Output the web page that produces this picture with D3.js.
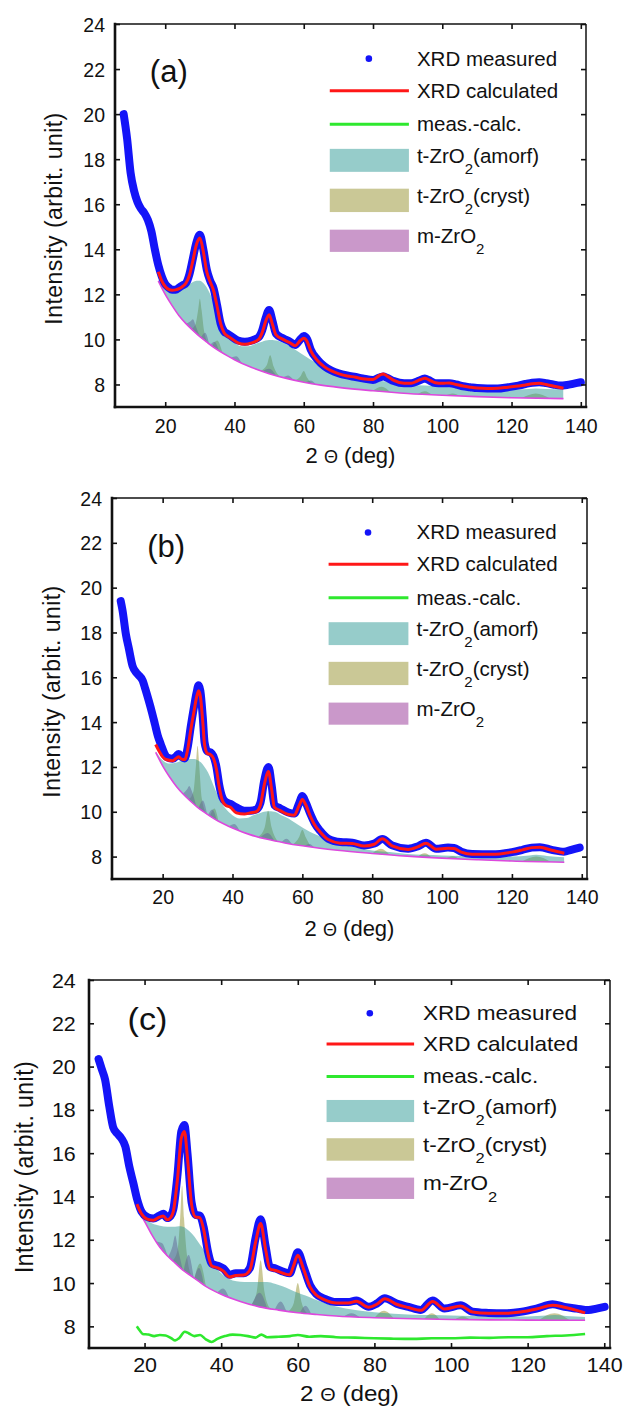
<!DOCTYPE html>
<html><head><meta charset="utf-8">
<script src="https://cdn.jsdelivr.net/npm/d3@7"></script>
<style>
html,body{margin:0;padding:0;background:#fff;}
svg{display:block;font-family:"Liberation Sans",Arial,Helvetica,sans-serif;}
</style></head><body>
<svg id="fig" width="625" height="1407"></svg>
<script>
// ---------------- data ----------------
const xTicks = [20, 40, 60, 80, 100, 120, 140];
const yTicks = [8, 10, 12, 14, 16, 18, 20, 22, 24];
const panelLabels = ["(a)", "(b)", "(c)"];
const legendLines = ["XRD measured", "XRD calculated", "meas.-calc."];
const legendPhases = [["t-ZrO", "2", "(amorf)"], ["t-ZrO", "2", "(cryst)"], ["m-ZrO", "2", ""]];
const xTitle = ["2 ", "\u0398", " (deg)"];
const yTitle = "Intensity (arbit. unit)";

// shared 2θ grids for the fitted background and the amorphous phase
const bgTheta = [18, 20, 22, 24, 26, 28, 30, 32, 34, 36, 38, 40, 45, 50, 55, 60, 65, 70, 80, 90, 100, 110, 120, 135];
const amorfTheta = [18, 20, 22, 24, 26, 28, 29, 30, 31, 32, 33, 34, 35, 36, 37, 38, 40, 42, 44, 46, 48, 50, 52, 54, 56, 58, 60, 62, 64, 66, 68, 70, 75, 80, 85, 90, 95, 100, 105, 110, 115, 120, 125, 127, 130, 135];

// ---- sample (a) ----
const measuredA = [[8,20.0],[9,18.9],[10,17.4],[11,16.6],[12,16.1],[13,15.8],[14,15.6],[15,15.3],[16,14.8],[17,14.0],[18,13.3],[19,12.8],[20,12.45],[21,12.3],[22,12.2],[23,12.2],[24,12.3],[25,12.4],[26,12.5],[27,12.9],[28,13.6],[29,14.3],[30,14.65],[31,14.0],[32,13.1],[33,12.6],[34,12.25],[35,11.5],[36,10.7],[37,10.35],[38,10.25],[39,10.15],[41,9.95],[43,9.9],[45,9.95],[47,10.1],[48,10.4],[49,10.95],[50,11.3],[51,10.8],[52,10.25],[54,10.05],[56,9.9],[57.5,9.75],[59,10.0],[60,10.15],[61,10.0],[62,9.55],[64,9.1],[66,8.8],[68,8.62],[70,8.5],[72.5,8.4],[75,8.33],[77,8.27],[80,8.2],[82,8.32],[83,8.35],[84,8.3],[86,8.15],[89,8.05],[91,8.05],[93,8.15],[95,8.27],[96,8.2],[98,8.06],[100,8.05],[102,8.05],[104,8.0],[106,7.92],[108,7.88],[110,7.84],[113,7.82],[116,7.82],[119,7.88],[122,7.95],[124,8.02],[126,8.08],[128,8.1],[130,8.06],[132,8.0],[134,7.95],[136,7.98],[138,8.04],[140,8.1]];
const calculatedA = [[18,13.0],[19,12.6],[20,12.35],[21,12.22],[22,12.18],[23,12.2],[24,12.25],[25,12.35],[26,12.5],[27,12.85],[28,13.5],[29,14.2],[30,14.5],[31,13.9],[32,13.0],[33,12.55],[34,12.15],[35,11.45],[36,10.7],[37,10.3],[38,10.15],[39,10.05],[41,9.85],[43,9.78],[45,9.85],[47,10.0],[48,10.3],[49,10.8],[50,11.1],[51,10.65],[52,10.2],[54,10.0],[56,9.85],[57.5,9.72],[59,9.95],[60,10.05],[61,9.9],[62,9.5],[64,9.05],[66,8.78],[68,8.6],[70,8.48],[72.5,8.38],[75,8.32],[77,8.25],[80,8.22],[82,8.42],[83,8.47],[84,8.38],[86,8.18],[89,8.05],[91,8.05],[93,8.17],[95,8.28],[96,8.22],[98,8.08],[100,8.05],[102,8.07],[104,8.0],[106,7.93],[108,7.88],[110,7.84],[113,7.82],[116,7.83],[119,7.88],[122,7.93],[124,7.98],[126,8.03],[128,8.05],[130,8.0],[132,7.93],[135,7.83]];
const backgroundA = [12.6, 12.0, 11.5, 11.05, 10.7, 10.4, 10.12, 9.88, 9.65, 9.45, 9.27, 9.1, 8.75, 8.48, 8.27, 8.1, 7.97, 7.87, 7.72, 7.6, 7.52, 7.46, 7.41, 7.37];
const amorfA = [12.65, 12.25, 12.15, 12.2, 12.35, 12.55, 12.6, 12.6, 12.5, 12.3, 12.0, 11.65, 11.25, 10.85, 10.5, 10.2, 9.85, 9.7, 9.7, 9.8, 9.9, 9.97, 9.95, 9.85, 9.7, 9.5, 9.3, 9.1, 8.95, 8.8, 8.68, 8.58, 8.38, 8.22, 8.1, 8.0, 7.95, 7.9, 7.85, 7.8, 7.78, 7.77, 7.8, 7.82, 7.8, 7.78];
const crystA = [
  [[27.5,10.45],[28.8,10.7],[29.5,11.3],[30,11.8],[30.5,11.3],[31.2,10.4],[32.5,9.8]],
  [[33.5,9.7],[35,9.95],[36.5,9.4]],
  [[47.5,8.6],[49.3,8.85],[50.3,9.3],[51.3,8.8],[53,8.35]],
  [[57.5,8.18],[59,8.35],[60,8.6],[61,8.3],[62.5,8.03]],
  [[80,7.72],[82.5,7.9],[85,7.66]],
  [[93,7.58],[95,7.7],[97,7.54]],
  [[101,7.51],[103,7.6],[105,7.49]],
  [[123,7.4],[127,7.6],[131,7.39]]
];
const monoA = [
  [[26,10.7],[27.2,10.8],[28,10.9],[28.8,10.6],[30,10.12]],
  [[30.3,10.08],[31.5,10.3],[32.7,9.8]],
  [[33,9.76],[34.2,9.9],[35.5,9.5]],
  [[39,9.18],[40.5,9.25],[42,8.96]],
  [[48,8.58],[50,8.7],[52,8.4]],
  [[54,8.31],[55.5,8.4],[57,8.2]],
  [[60.5,8.09],[62,8.18],[63.5,8.0]]
];

// ---- sample (b) ----
const measuredB = [[8,19.4],[8.5,19.0],[9.5,17.9],[10.3,17.3],[11.4,16.5],[12.5,16.2],[13.1,16.1],[14.3,15.85],[15,15.5],[16,14.97],[17,14.4],[17.8,13.9],[18.6,13.4],[19.5,13.0],[20.5,12.6],[21.2,12.43],[22.9,12.36],[24,12.5],[24.6,12.58],[25.4,12.45],[26.3,12.38],[27.2,12.9],[28,13.75],[29,14.7],[29.7,15.3],[30.3,15.65],[30.8,15.4],[31.5,14.2],[32,13.1],[32.8,12.7],[33.7,12.65],[34.5,12.5],[35.4,12.0],[36.2,11.2],[37.1,10.64],[38,10.45],[39.4,10.35],[41.1,10.2],[43.4,10.05],[45,10.05],[46.8,10.1],[48,10.4],[49.1,11.4],[50.3,12.0],[51.2,11.2],[52,10.3],[53.7,10.15],[56,9.97],[57.7,9.92],[59,10.35],[60,10.7],[61,10.4],[62.3,9.9],[63.5,9.5],[65.1,9.15],[67.4,8.8],[70.9,8.65],[74.3,8.62],[77.7,8.5],[80.6,8.58],[82.9,8.78],[85.7,8.5],[90.3,8.35],[93,8.45],[95.4,8.62],[98.3,8.35],[101.7,8.4],[103.4,8.38],[105.5,8.22],[108.6,8.12],[114.3,8.1],[120,8.2],[123,8.3],[125.7,8.4],[128,8.42],[131.4,8.3],[134.9,8.22],[137,8.3],[139.4,8.4]];
const calculatedB = [[18,13.0],[19,12.7],[20,12.45],[21,12.33],[22.9,12.28],[24,12.4],[24.6,12.45],[25.4,12.35],[26.3,12.33],[27.2,12.8],[28,13.6],[29,14.5],[29.7,15.1],[30.3,15.4],[30.8,15.15],[31.5,14.0],[32,13.0],[32.8,12.6],[33.7,12.55],[34.5,12.4],[35.4,11.9],[36.2,11.1],[37.1,10.5],[38,10.3],[39.4,10.2],[41.1,9.95],[43.4,9.9],[45,9.95],[46.8,10.0],[48,10.3],[49.1,11.2],[50.3,11.8],[51.2,11.0],[52,10.2],[53.7,10.05],[56,9.88],[57.7,9.85],[59,10.25],[60,10.55],[61,10.3],[62.3,9.8],[63.5,9.42],[65.1,9.1],[67.4,8.76],[70.9,8.6],[74.3,8.58],[77.7,8.47],[80.6,8.55],[82.9,8.8],[85.7,8.48],[90.3,8.32],[93,8.43],[95.4,8.6],[98.3,8.33],[101.7,8.37],[103.4,8.36],[105.5,8.2],[108.6,8.1],[114.3,8.1],[120,8.2],[123,8.3],[125.7,8.4],[128,8.42],[131.4,8.28],[135,8.15]];
const backgroundB = [12.65, 12.05, 11.55, 11.12, 10.77, 10.47, 10.2, 9.97, 9.76, 9.58, 9.42, 9.28, 8.98, 8.77, 8.61, 8.48, 8.37, 8.28, 8.14, 8.02, 7.93, 7.86, 7.8, 7.75];
const amorfB = [12.7, 12.3, 12.15, 12.2, 12.3, 12.35, 12.35, 12.3, 12.2, 12.0, 11.75, 11.4, 11.0, 10.65, 10.35, 10.15, 9.85, 9.7, 9.72, 9.85, 9.95, 10.02, 10.0, 9.85, 9.7, 9.5, 9.3, 9.12, 8.97, 8.83, 8.7, 8.6, 8.42, 8.27, 8.2, 8.12, 8.08, 8.05, 8.03, 8.0, 7.99, 8.0, 8.05, 8.08, 8.03, 7.97];
const crystB = [
  [[27.5,10.55],[28.8,10.9],[29.5,12.0],[30,12.95],[30.5,12.0],[31.2,10.6],[32.5,9.92]],
  [[33.5,9.8],[34.8,10.15],[36,9.58]],
  [[47.5,8.9],[49.2,9.3],[50.2,10.05],[51.2,9.3],[53,8.67]],
  [[57.5,8.56],[59,8.85],[60,9.2],[61,8.85],[62.5,8.42]],
  [[80,8.14],[82.5,8.35],[85,8.08]],
  [[93,7.99],[95,8.15],[97,7.96]],
  [[101,7.92],[103,8.02],[105,7.9]],
  [[123,7.79],[127,8.0],[131,7.77]]
];
const monoB = [
  [[25.8,10.8],[27,11.0],[27.6,11.15],[28.4,10.9],[29.6,10.25]],
  [[30.3,10.16],[31.5,10.5],[32.7,9.9]],
  [[33,9.86],[34.2,10.1],[35.5,9.62]],
  [[39,9.35],[40.5,9.45],[42,9.16]],
  [[48,8.85],[50,9.05],[52,8.7]],
  [[54,8.64],[55.5,8.8],[57,8.56]],
  [[60.5,8.46],[62,8.56],[63.5,8.39]]
];

// ---- sample (c) ----
const measuredC = [[8,20.35],[8.8,19.9],[9.7,19.4],[10.8,18.15],[11.8,17.2],[12.9,16.9],[13.9,16.7],[15,16.3],[16,15.4],[17.1,14.6],[18.1,13.85],[19.2,13.3],[20.7,13.05],[22.3,12.98],[23.9,13.12],[24.9,13.2],[25.9,13.0],[26.8,13.1],[27.5,13.4],[28.6,15.0],[29.6,17.0],[30.4,17.3],[31.2,16.0],[32.3,13.7],[33.3,13.15],[34.4,13.12],[35.4,12.6],[36.5,11.5],[37.5,10.9],[39.1,10.8],[40.6,10.67],[42.2,10.38],[43.8,10.45],[45.9,10.45],[47.5,10.7],[49,12.1],[50.3,12.95],[51.6,11.7],[52.7,10.75],[54.2,10.67],[56.3,10.52],[57.9,10.45],[58.9,10.9],[60,11.42],[61.5,10.75],[63.2,9.9],[64.8,9.5],[66.9,9.28],[70.1,9.12],[73.2,9.12],[75.3,9.2],[78.5,8.9],[80.6,9.05],[82.7,9.3],[85.8,9.05],[88.9,8.9],[92.1,8.76],[95.2,9.2],[98.3,8.82],[102.5,8.97],[105.6,8.68],[109.8,8.62],[114,8.6],[118.1,8.67],[122.3,8.82],[126.5,9.02],[129.6,8.9],[132.8,8.82],[135.9,8.75],[138,8.82],[140.1,8.9]];
const calculatedC = [[18,13.65],[19.2,13.2],[20.7,12.95],[22.3,12.9],[23.9,13.05],[24.9,13.1],[25.9,12.92],[26.8,13.02],[27.5,13.3],[28.6,14.8],[29.6,16.7],[30.4,17.0],[31.2,15.8],[32.3,13.6],[33.3,13.05],[34.4,13.02],[35.4,12.5],[36.5,11.4],[37.5,10.8],[39.1,10.7],[40.6,10.55],[42.2,10.28],[43.8,10.35],[45.9,10.37],[47.5,10.6],[49,11.9],[50.3,12.75],[51.6,11.55],[52.7,10.65],[54.2,10.58],[56.3,10.44],[57.9,10.38],[58.9,10.8],[60,11.28],[61.5,10.65],[63.2,9.82],[64.8,9.45],[66.9,9.24],[70.1,9.08],[73.2,9.08],[75.3,9.16],[78.5,8.88],[80.6,9.02],[82.7,9.27],[85.8,9.02],[88.9,8.87],[92.1,8.74],[95.2,9.15],[98.3,8.8],[102.5,8.94],[105.6,8.66],[109.8,8.6],[114,8.6],[118.1,8.66],[122.3,8.8],[126.5,8.98],[129.6,8.88],[132.8,8.74],[135,8.62]];
const residualC = [[18,8.0],[18.8,7.8],[19.5,7.65],[21,7.62],[22.5,7.55],[24,7.6],[25.5,7.58],[27,7.45],[28,7.35],[29,7.45],[30.5,7.75],[31.5,7.68],[33,7.55],[34.5,7.6],[36,7.4],[37.5,7.28],[39,7.42],[41,7.55],[43,7.62],[45,7.6],[47,7.55],[49,7.48],[50.5,7.62],[52,7.5],[55,7.52],[58,7.55],[60,7.6],[63,7.52],[66,7.55],[70,7.5],[75,7.48],[80,7.45],[85,7.43],[90,7.42],[95,7.45],[100,7.45],[105,7.48],[110,7.47],[115,7.5],[120,7.5],[125,7.55],[130,7.58],[135,7.65]];
const backgroundC = [13.45, 12.85, 12.2, 11.65, 11.25, 10.92, 10.6, 10.35, 10.1, 9.85, 9.65, 9.48, 9.15, 8.9, 8.75, 8.63, 8.55, 8.48, 8.4, 8.35, 8.32, 8.3, 8.29, 8.28];
const amorfC = [13.5, 13.0, 12.75, 12.65, 12.6, 12.6, 12.62, 12.6, 12.5, 12.35, 12.15, 11.9, 11.65, 11.35, 11.1, 10.85, 10.45, 10.2, 10.08, 10.05, 10.05, 10.05, 10.05, 9.97, 9.85, 9.7, 9.55, 9.42, 9.28, 9.15, 9.02, 8.92, 8.75, 8.65, 8.58, 8.54, 8.52, 8.5, 8.48, 8.47, 8.46, 8.46, 8.5, 8.52, 8.48, 8.43];
const crystC = [
  [[27.3,11.03],[28.6,11.5],[29.3,13.0],[29.8,14.5],[30.3,13.0],[31.0,11.4],[32.3,10.31]],
  [[33,10.22],[34.5,10.9],[36,9.85]],
  [[47.8,9.0],[49.3,9.6],[50.3,11.05],[51.3,9.6],[52.8,8.82]],
  [[57.5,8.69],[59,9.1],[60,10.0],[61,9.1],[62.5,8.6]],
  [[80,8.4],[82.5,8.72],[85,8.38]],
  [[93,8.34],[95,8.6],[97,8.33]],
  [[101,8.32],[103,8.45],[105,8.31]],
  [[123,8.29],[127,8.6],[131,8.28]]
];
const monoC = [
  [[23,11.92],[24.5,11.85],[26,11.25]],
  [[26.2,11.22],[27.3,11.7],[28,12.2],[28.7,11.6],[30,10.6]],
  [[30.2,10.58],[31.5,11.3],[32.8,10.25]],
  [[33,10.22],[34.2,10.7],[35.5,9.92]],
  [[39,9.56],[40.5,9.75],[42,9.35]],
  [[48,9.0],[50,9.55],[52,8.84]],
  [[54,8.78],[55.5,9.15],[57,8.72]],
  [[60.5,8.61],[62,8.95],[63.5,8.58]],
  [[72,8.46],[74,8.6],[76,8.44]]
];

// ---------------- styling ----------------
const COL = {
  measured: "#1414f8",
  calculated: "#ff1717",
  residual: "#2ee82e",
  amorf: "#2e9995",
  cryst: "#95912d",
  mono: "#953195",
  monoLine: "#dd48dd",
  axis: "#111"
};
const AREA_OPACITY = 0.5;

// frame placement of the three stacked panels
const frames = [
  { left: 115, right: 586, top: 24,  bottom: 407,  kx: 1.0,  yTitleX: 54, xTitleY: 463,   labGap: 10, xLabDy: 26,   tagFrac: 0.151 },
  { left: 112, right: 587, top: 498, bottom: 879,  kx: 1.0,  yTitleX: 52, xTitleY: 936,   labGap: 10, xLabDy: 25,   tagFrac: 0.155 },
  { left: 89,  right: 610, top: 980, bottom: 1348, kx: 1.1,  yTitleX: 24, xTitleY: 1400.5, labGap: 12, xLabDy: 24.5, tagFrac: 0.135 }
];

const panelsData = [
  { measured: measuredA, calculated: calculatedA, residual: null, bg: backgroundA, amorf: amorfA, cryst: crystA, mono: monoA },
  { measured: measuredB, calculated: calculatedB, residual: null, bg: backgroundB, amorf: amorfB, cryst: crystB, mono: monoB },
  { measured: measuredC, calculated: calculatedC, residual: residualC, bg: backgroundC, amorf: amorfC, cryst: crystC, mono: monoC }
];

const svg = d3.select("#fig");
const FONT = '"Liberation Sans", Arial, Helvetica, sans-serif';

function drawPanel(F, D, idx) {
  const g = svg.append("g");
  const w = F.right - F.left, h = F.bottom - F.top;
  const x = d3.scaleLinear().domain([5.5, 141.5]).range([F.left, F.right]);
  const y = d3.scaleLinear().domain([7, 24]).range([F.bottom, F.top]);
  const curve = d3.curveMonotoneX;

  const bgPts = bgTheta.map((t, i) => [t, D.bg[i]]);
  const amorfPts = amorfTheta.map((t, i) => [t, D.amorf[i]]);

  // phase areas sit on the background: clip everything to the region above it
  const clipId = "above-bg-" + idx;
  g.append("clipPath").attr("id", clipId).append("path")
    .attr("d", d3.area().x(d => x(d[0])).y0(F.top).y1(d => y(d[1])).curve(curve)(bgPts));

  const fillArea = d3.area().x(d => x(d[0])).y0(F.bottom).y1(d => y(d[1])).curve(curve);
  const comp = g.append("g").attr("clip-path", `url(#${clipId})`);
  // narrow crystalline and monoclinic peaks underneath, broad amorphous hump on top
  comp.selectAll("path.cryst").data(D.cryst).join("path").attr("class", "cryst")
    .attr("d", fillArea).attr("fill", COL.cryst).attr("fill-opacity", AREA_OPACITY);
  comp.selectAll("path.mono").data(D.mono).join("path").attr("class", "mono")
    .attr("d", fillArea).attr("fill", COL.mono).attr("fill-opacity", AREA_OPACITY);
  comp.append("path").attr("d", fillArea(amorfPts))
    .attr("fill", COL.amorf).attr("fill-opacity", AREA_OPACITY);

  const line = d3.line().x(d => x(d[0])).y(d => y(d[1])).curve(curve);

  // background / m-ZrO2 base outline
  g.append("path").attr("d", line(bgPts)).attr("fill", "none")
    .attr("stroke", COL.monoLine).attr("stroke-width", 1.6);

  // measured pattern (dense points form a thick band)
  g.append("path").attr("d", line(D.measured)).attr("fill", "none")
    .attr("stroke", COL.measured).attr("stroke-width", 8)
    .attr("stroke-linejoin", "round").attr("stroke-linecap", "round");

  // calculated pattern
  g.append("path").attr("d", line(D.calculated)).attr("fill", "none")
    .attr("stroke", COL.calculated).attr("stroke-width", 3)
    .attr("stroke-linejoin", "round");

  if (D.residual) {
    g.append("path").attr("d", line(D.residual)).attr("fill", "none")
      .attr("stroke", COL.residual).attr("stroke-width", 2.6)
      .attr("stroke-linejoin", "round");
  }

  // axes: inward ticks on all four sides, labels on left and bottom
  const tickFont = 19.5;
  const ax = d3.axisBottom(x).tickValues(xTicks).tickSizeInner(-5).tickSizeOuter(0).tickPadding(F.xLabDy - 0.71 * tickFont);
  const gx = g.append("g").attr("transform", `translate(0,${F.bottom})`).call(ax);
  const axT = d3.axisTop(x).tickValues(xTicks).tickSizeInner(-5).tickSizeOuter(0).tickFormat("");
  const gxt = g.append("g").attr("transform", `translate(0,${F.top})`).call(axT);
  const ay = d3.axisLeft(y).tickValues(yTicks).tickSizeInner(-5).tickSizeOuter(0).tickPadding(F.labGap);
  const gy = g.append("g").attr("transform", `translate(${F.left},0)`).call(ay);
  const ayR = d3.axisRight(y).tickValues(yTicks).tickSizeInner(-5).tickSizeOuter(0).tickFormat("");
  const gyr = g.append("g").attr("transform", `translate(${F.right},0)`).call(ayR);

  [gx, gxt, gy, gyr].forEach(a => {
    a.attr("font-family", FONT).attr("font-size", tickFont);
    a.select(".domain").remove();
    a.selectAll(".tick line").attr("stroke", COL.axis).attr("stroke-width", 1.6);
    a.selectAll(".tick text").attr("fill", "#111");
  });
  gy.selectAll(".tick text").attr("dy", "0.36em")
    .attr("transform", `scale(${F.kx},1)`);
  gx.selectAll(".tick text").attr("transform", `scale(${F.kx},1)`);

  // frame
  g.append("line").attr("x1", F.left).attr("y1", F.top).attr("x2", F.left).attr("y2", F.bottom)
    .attr("stroke", COL.axis).attr("stroke-width", 2.6).attr("stroke-linecap", "square");
  g.append("line").attr("x1", F.left).attr("y1", F.bottom).attr("x2", F.right).attr("y2", F.bottom)
    .attr("stroke", COL.axis).attr("stroke-width", 2.6).attr("stroke-linecap", "square");
  g.append("line").attr("x1", F.left).attr("y1", F.top).attr("x2", F.right).attr("y2", F.top)
    .attr("stroke", COL.axis).attr("stroke-width", 1.5);
  g.append("line").attr("x1", F.right).attr("y1", F.top).attr("x2", F.right).attr("y2", F.bottom)
    .attr("stroke", COL.axis).attr("stroke-width", 1.5);

  // axis titles
  g.append("text")
    .attr("transform", `translate(${F.yTitleX},${(F.top + F.bottom) / 2 + 3}) rotate(-90) scale(1,${F.kx})`)
    .attr("text-anchor", "middle").attr("dominant-baseline", "central")
    .attr("font-family", FONT).attr("font-size", 23).attr("letter-spacing", 0.45)
    .attr("fill", "#111").text(yTitle);
  const xt = g.append("text")
    .attr("transform", `translate(${(F.left + F.right) / 2},${F.xTitleY}) scale(${F.kx},1)`)
    .attr("text-anchor", "middle").attr("font-family", FONT).attr("font-size", 22).attr("fill", "#111");
  xt.append("tspan").text(xTitle[0]);
  xt.append("tspan").attr("font-size", 18).text(xTitle[1]);
  xt.append("tspan").text(xTitle[2]);

  // panel tag
  g.append("text")
    .attr("transform", `translate(${F.left + 0.074 * w},${F.top + F.tagFrac * h}) scale(${F.kx},1)`)
    .attr("font-family", FONT).attr("font-size", 31).attr("fill", "#111").text(panelLabels[idx]);

  // legend
  const lx0 = F.left + 0.456 * w, lx1 = F.left + 0.624 * w;
  const dotX = F.left + 0.539 * w, tx = F.left + 0.641 * w;
  const legFont = 20.5;
  const addText = (yy, parts) => {
    const t = g.append("text")
      .attr("transform", `translate(${tx},${yy}) scale(${F.kx},1)`)
      .attr("font-family", FONT).attr("font-size", legFont).attr("fill", "#111");
    if (typeof parts === "string") { t.text(parts); return; }
    t.append("tspan").text(parts[0]);
    t.append("tspan").attr("font-size", 15).attr("dy", 11).text(parts[1]);
    if (parts[2]) t.append("tspan").attr("font-size", legFont).attr("dy", -11).text(parts[2]);
  };
  const yMeas = F.top + 0.0905 * h;
  g.append("circle").attr("cx", dotX).attr("cy", yMeas).attr("r", 3.3).attr("fill", COL.measured);
  addText(yMeas + 7, legendLines[0]);
  const yCalc = F.top + 0.174 * h;
  g.append("line").attr("x1", lx0).attr("x2", lx1).attr("y1", yCalc).attr("y2", yCalc)
    .attr("stroke", COL.calculated).attr("stroke-width", 3);
  addText(yCalc + 7, legendLines[1]);
  const yRes = F.top + 0.262 * h;
  g.append("line").attr("x1", lx0).attr("x2", lx1).attr("y1", yRes).attr("y2", yRes)
    .attr("stroke", COL.residual).attr("stroke-width", 3);
  addText(yRes + 7, legendLines[2]);

  const rects = [[0.326, 0.386, 0.363, COL.amorf], [0.430, 0.491, 0.467, COL.cryst], [0.537, 0.595, 0.572, COL.mono]];
  rects.forEach((r, i) => {
    g.append("rect").attr("x", lx0).attr("width", lx1 - lx0)
      .attr("y", F.top + r[0] * h).attr("height", (r[1] - r[0]) * h)
      .attr("fill", r[3]).attr("fill-opacity", AREA_OPACITY);
    addText(F.top + r[2] * h, legendPhases[i]);
  });
}

frames.forEach((F, i) => drawPanel(F, panelsData[i], i));
</script>
</body></html>
